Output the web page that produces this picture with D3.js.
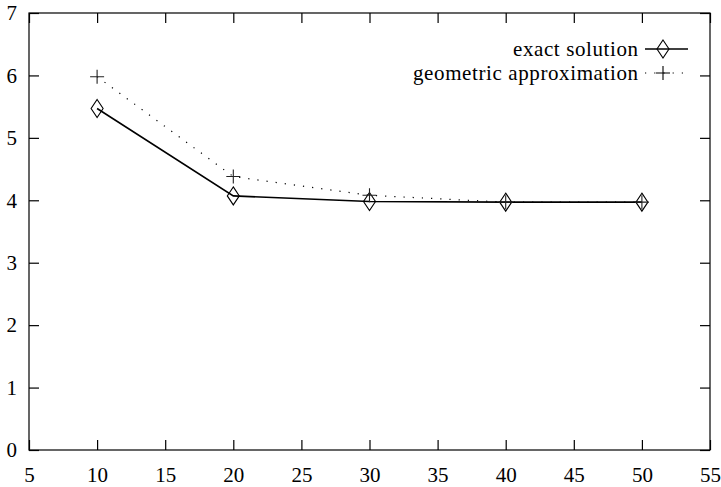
<!DOCTYPE html>
<html>
<head>
<meta charset="utf-8">
<script src="https://cdn.jsdelivr.net/npm/d3@7"></script>
<style>
  body { margin: 0; background: #fff; }
  svg text { font-family: "Liberation Serif", Tinos, "Times New Roman", serif !important; }
</style>
</head>
<body>
<div id="canvas"></div>
<script>
// data
const xs = [10, 20, 30, 40, 50];
const exact = [5.47, 4.07, 3.98, 3.97, 3.97];
const geometric = [5.98, 4.38, 4.08, 3.97, 3.97];
const xTicks = [5, 10, 15, 20, 25, 30, 35, 40, 45, 50, 55];
const yTicks = [0, 1, 2, 3, 4, 5, 6, 7];
const seriesNames = ["exact solution", "geometric approximation"];

const width = 721;
const height = 487;
const plotLeft = 29, plotRight = 710, plotTop = 13, plotBottom = 450;
const serif = "\"Liberation Serif\"";

const svg = d3.select("#canvas").append("svg")
    .attr("width", width)
    .attr("height", height);

const x = d3.scaleLinear().domain([5, 55]).range([plotLeft, plotRight]);
const y = d3.scaleLinear().domain([0, 7]).range([plotBottom, plotTop]);

// axes with inward ticks on all four sides (gnuplot style)
const axisStyle = g => {
    g.attr("font-family", null);
    g.select(".domain").remove();
    g.selectAll(".tick line").attr("stroke", "#000").attr("stroke-width", 1.2);
    g.selectAll(".tick text")
        .attr("fill", "#000")
        .style("font-family", serif)
        .style("font-size", "21px");
};

svg.append("g")
    .attr("transform", `translate(0,${plotBottom})`)
    .call(d3.axisBottom(x).tickValues(xTicks).tickFormat(d3.format("d")).tickSize(-10).tickPadding(17))
    .call(axisStyle);

svg.append("g")
    .attr("transform", `translate(0,${plotTop})`)
    .call(d3.axisTop(x).tickValues(xTicks).tickSize(-10).tickFormat(""))
    .call(axisStyle);

svg.append("g")
    .attr("transform", `translate(${plotLeft},0)`)
    .call(d3.axisLeft(y).tickValues(yTicks).tickFormat(d3.format("d")).tickSize(-10).tickPadding(12))
    .call(axisStyle);

svg.append("g")
    .attr("transform", `translate(${plotRight},0)`)
    .call(d3.axisRight(y).tickValues(yTicks).tickSize(-10).tickFormat(""))
    .call(axisStyle);

svg.append("rect")
    .attr("x", plotLeft).attr("y", plotTop)
    .attr("width", plotRight - plotLeft).attr("height", plotBottom - plotTop)
    .attr("fill", "none")
    .attr("stroke", "#000")
    .attr("stroke-width", 1.2);

const diamond = "M0,-9L6,0L0,9L-6,0Z";
const plus = "M-7,0H7M0,-7V7";

const line = d3.line().x(d => x(d[0])).y(d => y(d[1]));

const exactPts = xs.map((v, i) => [v, exact[i]]);
const geoPts = xs.map((v, i) => [v, geometric[i]]);

svg.append("path")
    .datum(geoPts)
    .attr("d", line)
    .attr("fill", "none")
    .attr("stroke", "#000")
    .attr("stroke-width", 1.2)
    .attr("stroke-dasharray", "1.2,8");

svg.append("path")
    .datum(exactPts)
    .attr("d", line)
    .attr("fill", "none")
    .attr("stroke", "#000")
    .attr("stroke-width", 1.6);

svg.selectAll(".pt-exact").data(exactPts).enter().append("path")
    .attr("class", "pt-exact")
    .attr("transform", d => `translate(${x(d[0])},${y(d[1])})`)
    .attr("d", diamond)
    .attr("fill", "none")
    .attr("stroke", "#000")
    .attr("stroke-width", 1.1);

svg.selectAll(".pt-geo").data(geoPts).enter().append("path")
    .attr("class", "pt-geo")
    .attr("transform", d => `translate(${x(d[0])},${y(d[1])})`)
    .attr("d", plus)
    .attr("fill", "none")
    .attr("stroke", "#222")
    .attr("stroke-width", 1.1);

// legend
const legend = svg.append("g");
const rows = [
    { name: seriesNames[0], y: 49, len: 125, mark: diamond, dash: null },
    { name: seriesNames[1], y: 73, len: 225, mark: plus, dash: "1.2,8" }
];
rows.forEach(r => {
    legend.append("text")
        .attr("x", 638).attr("y", r.y)
        .attr("dy", "0.32em")
        .attr("text-anchor", "end")
        .attr("textLength", r.len)
        .style("font-family", serif)
        .style("font-size", "21px")
        .text(r.name);
    legend.append("line")
        .attr("x1", 645).attr("x2", 688)
        .attr("y1", r.y).attr("y2", r.y)
        .attr("stroke", "#000")
        .attr("stroke-width", r.dash ? 1.2 : 1.6)
        .attr("stroke-dasharray", r.dash);
    legend.append("path")
        .attr("transform", `translate(663,${r.y})`)
        .attr("d", r.mark)
        .attr("fill", "none")
        .attr("stroke", "#000")
        .attr("stroke-width", 1.1);
});
</script>
</body>
</html>
